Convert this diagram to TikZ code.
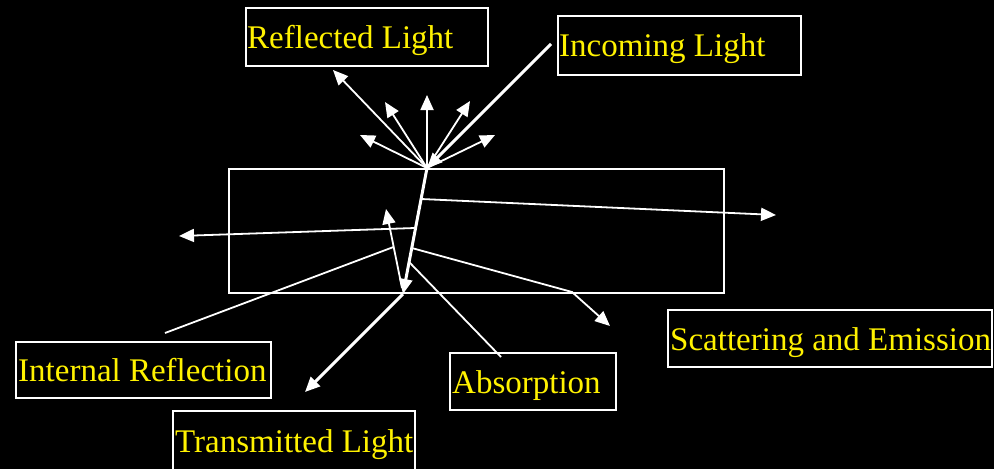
\documentclass[tikz,border=0pt]{standalone}
\usepackage{fontspec}
\setmainfont{Liberation Serif}
\usetikzlibrary{arrows.meta}
\begin{document}
\begin{tikzpicture}[x=1pt,y=-1pt,
  boxst/.style={draw=white,line width=2pt,rectangle,inner sep=0pt,outer sep=0pt,anchor=north west},
  lbl/.style={text=yellow,inner sep=0pt,anchor=base west,font=\fontsize{33}{40}\selectfont},
  thin/.style={draw=white,line width=1.8pt},
  thick/.style={draw=white,line width=3pt},
  arr/.style={-{Triangle[length=15pt,width=13pt]}},
]
\path[fill=black] (0,0) rectangle (994,469);
\useasboundingbox (0,0) rectangle (994,469);
% slab
\node[boxst,minimum width=495pt,minimum height=124pt] (slab) at (229,169) {};
% label boxes
\node[boxst,minimum width=242pt,minimum height=58pt] (rbox) at (246,8) {};
\node[boxst,minimum width=243pt,minimum height=59pt] (ibox) at (558,16) {};
\node[boxst,minimum width=255pt,minimum height=56pt] (irbox) at (16,342) {};
\node[boxst,minimum width=242pt,minimum height=70pt] (tbox) at (173,411) {};
\node[boxst,minimum width=166pt,minimum height=57pt] (abox) at (450,353) {};
\node[boxst,minimum width=324pt,minimum height=57pt] (sbox) at (668,310) {};
% texts
\node[lbl] (rtext) at (247,48) {Reflected Light};
\node[lbl] (itext) at (559,56) {Incoming Light};
\node[lbl] (irtext) at (18,381) {Internal Reflection};
\node[lbl] (atext) at (452,393) {Absorption};
\node[lbl] (stext) at (670,350) {Scattering and Emission};
\node[lbl] (ttext) at (175,452) {Transmitted Light};
% key points
\coordinate (O) at (427,168);
\coordinate (B) at (403,294);
\coordinate (inS) at (551,44);
\path (O) -- (B)
  coordinate[pos=0.246] (p1)
  coordinate[pos=0.476] (p2)
  coordinate[pos=0.635] (p3)
  coordinate[pos=0.746] (p4);
\coordinate (r1) at (333,70);
\coordinate (r2) at (385,102);
\coordinate (r3) at (427,95);
\coordinate (r4) at (470,101);
\coordinate (r5) at (360,135);
\coordinate (r6) at (495,135);
\coordinate (irS) at (402,288);
\coordinate (irT) at (386,209);
\path (irS) -- (irT) coordinate[pos=0.52] (irM);
\coordinate (irP) at (165,333);
\coordinate (lT) at (179,236);
\coordinate (rT) at (776,215);
\coordinate (sK) at (572,292);
\coordinate (sT) at (610,326);
\coordinate (aE) at (501,357);
\coordinate (tT) at (305,392);
% reflected
\foreach \t in {r1,r2,r3,r4,r5,r6} {\draw[thin,arr] (O) -- (\t);}
% incoming
\draw[thick,arr] (inS) -- (O);
% refracted and transmitted
\draw[thick,arr] (O) -- (B);
\draw[thick,arr] (B) -- (tT);
% internal reflection
\draw[thin,arr] (irS) -- (irT);
\draw[thin] (irM) -- (irP);
% through-going rays
\draw[thin,arr] (p2) -- (lT);
\draw[thin,arr] (p1) -- (rT);
\draw[thin,arr] (p3) -- (sK) -- (sT);
\draw[thin] (p4) -- (aE);
\end{tikzpicture}
\end{document}
